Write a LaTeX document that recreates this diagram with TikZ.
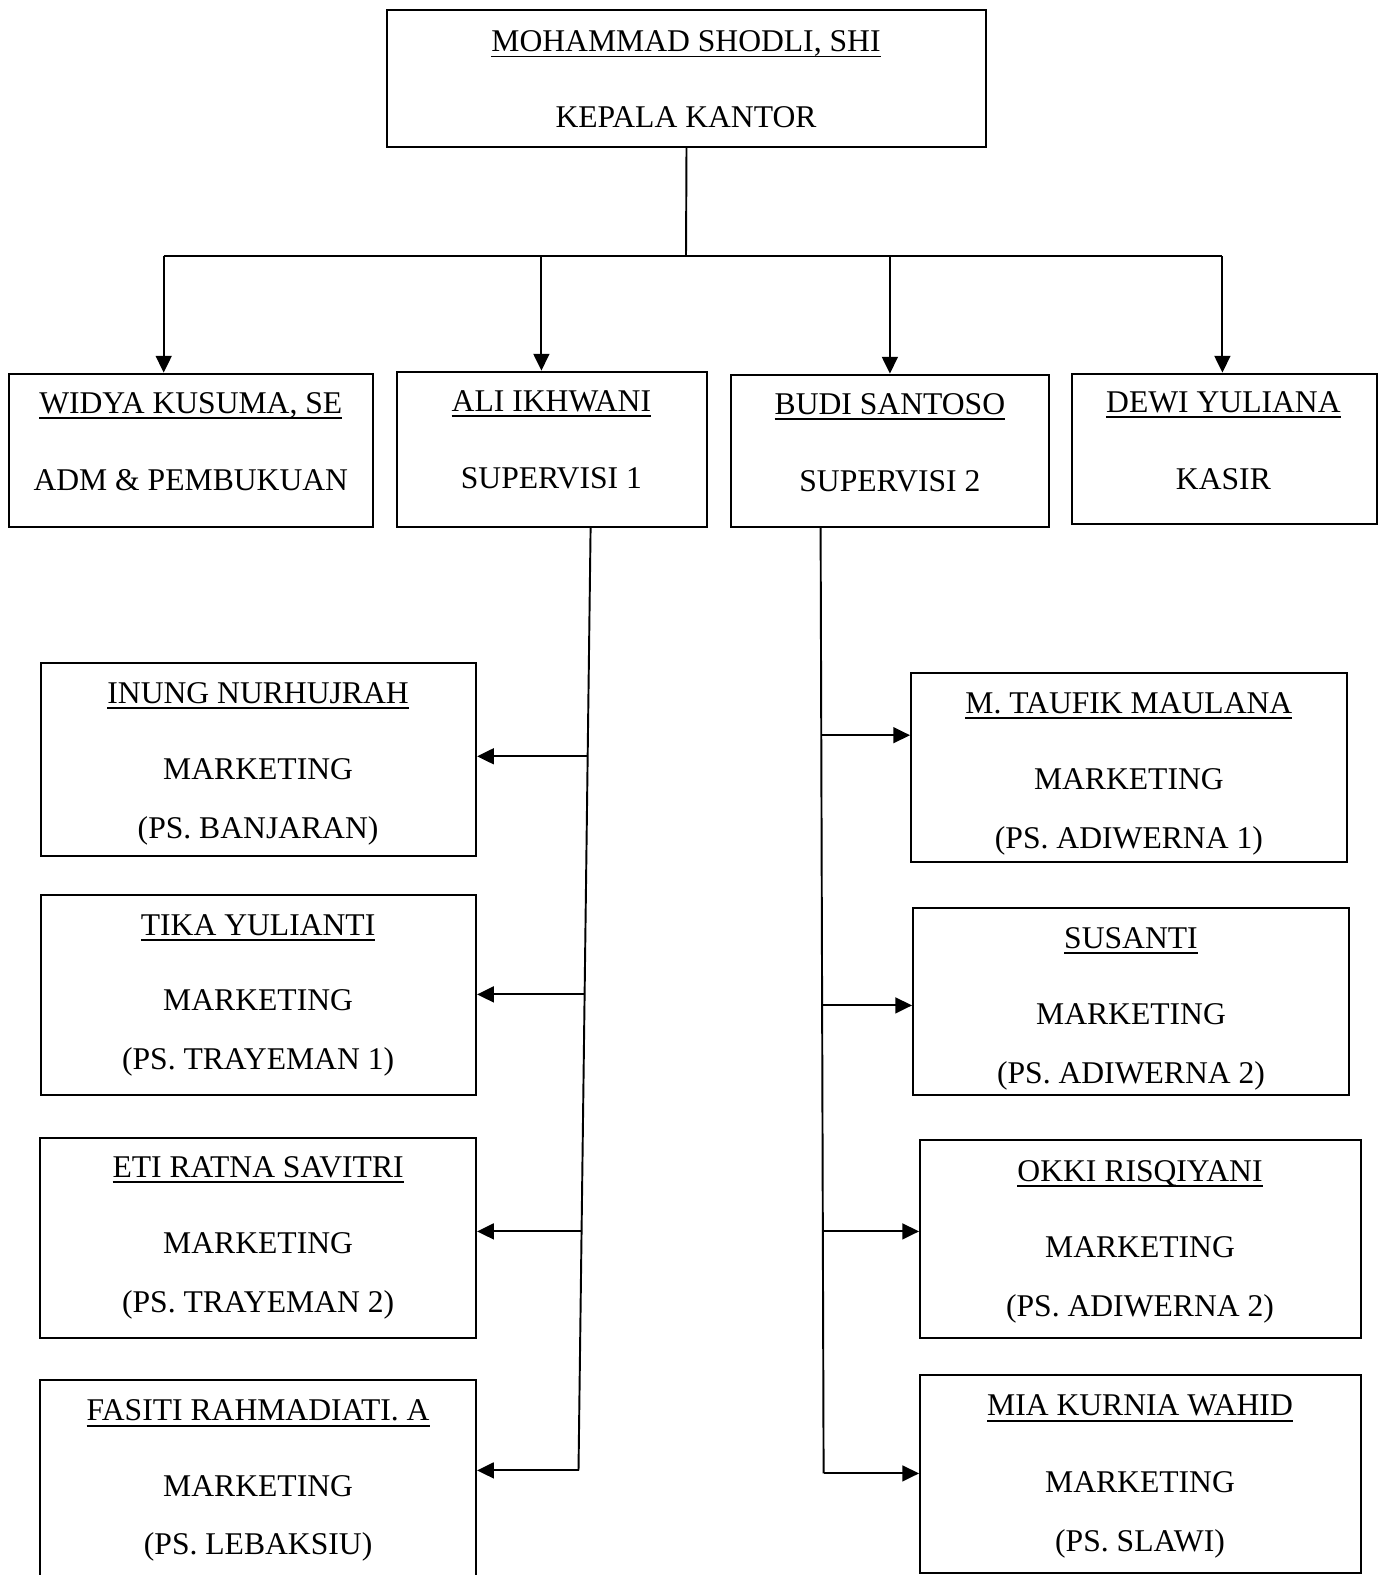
\documentclass[tikz,border=0pt]{standalone}
\usepackage{fontspec}
\setmainfont{Liberation Serif}
\usetikzlibrary{arrows.meta, fit}
\newcommand{\garisbawah}[1]{\setbox0\hbox{#1}\leavevmode\rlap{\rule[-3.3pt]{\wd0}{1.1pt}}\box0}
\tikzset{
	kotak/.style={draw, line width=1.1pt, inner sep=0pt},
	teks/.style={anchor=base, inner sep=0pt, font=\fontsize{18}{20}\selectfont},
	garis/.style={line width=1.1pt},
	panah/.style={line width=1.1pt, -{Triangle[length=9.5pt,width=9pt]}},
}
\begin{document}
\begin{tikzpicture}[x=0.02cm, y=-0.02cm]
			\clip (0,0) rectangle (1384,1575);
			% kepala kantor
			\node[kotak, fit={(386.7,10) (986.3,146.6)}] (kepala) {};
			\node[teks] (kepalaNama) at (686,51.7) {\garisbawah{MOHAMMAD SHODLI, SHI}};
			\node[teks] (kepalaJab) at (686,128) {KEPALA KANTOR};
			% baris kedua
			\node[kotak, fit={(9,373.6) (372.6,527.3)}] (widya) {};
			\node[teks] (widyaNama) at (190.8,413.3) {\garisbawah{WIDYA KUSUMA, SE}};
			\node[teks] (widyaJab) at (190.8,490.5) {ADM \& PEMBUKUAN};
			\node[kotak, fit={(396.7,371.6) (707.1,527.3)}] (ali) {};
			\node[teks] (aliNama) at (551.4,411.3) {\garisbawah{ALI IKHWANI}};
			\node[teks] (aliJab) at (551.4,488.5) {SUPERVISI 1};
			\node[kotak, fit={(731.2,374.6) (1048.6,527.3)}] (budi) {};
			\node[teks] (budiNama) at (889.9,414.3) {\garisbawah{BUDI SANTOSO}};
			\node[teks] (budiJab) at (889.9,491.6) {SUPERVISI 2};
			\node[kotak, fit={(1071.7,373.6) (1377,524.3)}] (dewi) {};
			\node[teks] (dewiNama) at (1223.4,412.3) {\garisbawah{DEWI YULIANA}};
			\node[teks] (dewiJab) at (1223.4,489.6) {KASIR};
			% marketing supervisi 1
			\node[kotak, fit={(41.2,662.9) (476.1,855.7)}] (inung) {};
			\node[teks] (inungNama) at (258.1,703.5) {\garisbawah{INUNG NURHUJRAH}};
			\node[teks] (inungJab) at (258.1,779.9) {MARKETING};
			\node[teks] (inungPs) at (258.1,838.1) {(PS. BANJARAN)};
			\node[kotak, fit={(41.2,894.9) (476.1,1094.8)}] (tika) {};
			\node[teks] (tikaNama) at (258.1,935.5) {\garisbawah{TIKA YULIANTI}};
			\node[teks] (tikaJab) at (258.1,1010.9) {MARKETING};
			\node[teks] (tikaPs) at (258.1,1069.1) {(PS. TRAYEMAN 1)};
			\node[kotak, fit={(40.2,1138) (476.1,1337.9)}] (eti) {};
			\node[teks] (etiNama) at (258.1,1177.6) {\garisbawah{ETI RATNA SAVITRI}};
			\node[teks] (etiJab) at (258.1,1253.9) {MARKETING};
			\node[teks] (etiPs) at (258.1,1312.2) {(PS. TRAYEMAN 2)};
			\node[kotak, fit={(40.2,1380) (476.1,1600)}] (fasiti) {};
			\node[teks] (fasitiNama) at (258.1,1420.7) {\garisbawah{FASITI RAHMADIATI. A}};
			\node[teks] (fasitiJab) at (258.1,1496) {MARKETING};
			\node[teks] (fasitiPs) at (258.1,1554.3) {(PS. LEBAKSIU)};
			% marketing supervisi 2
			\node[kotak, fit={(911,673) (1346.9,861.8)}] (taufik) {};
			\node[teks] (taufikNama) at (1128.9,713.6) {\garisbawah{M. TAUFIK MAULANA}};
			\node[teks] (taufikJab) at (1128.9,789.9) {MARKETING};
			\node[teks] (taufikPs) at (1128.9,848.2) {(PS. ADIWERNA 1)};
			\node[kotak, fit={(913,908) (1348.9,1094.8)}] (susanti) {};
			\node[teks] (susantiNama) at (1131,948.6) {\garisbawah{SUSANTI}};
			\node[teks] (susantiJab) at (1131,1024.9) {MARKETING};
			\node[teks] (susantiPs) at (1131,1083.2) {(PS. ADIWERNA 2)};
			\node[kotak, fit={(920,1140) (1361,1337.9)}] (okki) {};
			\node[teks] (okkiNama) at (1140,1181.6) {\garisbawah{OKKI RISQIYANI}};
			\node[teks] (okkiJab) at (1140,1257) {MARKETING};
			\node[teks] (okkiPs) at (1140,1316.2) {(PS. ADIWERNA 2)};
			\node[kotak, fit={(920,1375) (1361,1572.9)}] (mia) {};
			\node[teks] (miaNama) at (1140,1415.7) {\garisbawah{MIA KURNIA WAHID}};
			\node[teks] (miaJab) at (1140,1492) {MARKETING};
			\node[teks] (miaPs) at (1140,1551.3) {(PS. SLAWI)};
			% garis dari kepala kantor
			\coordinate (bus) at (686,256);
			\coordinate (b1) at (163.7,256);
			\coordinate (b2) at (541.4,256);
			\coordinate (b3) at (889.9,256);
			\coordinate (b4) at (1222.4,256);
			\draw[garis] (kepala.south) -- (bus);
			\draw[garis] (b1) -- (b4);
			\draw[panah] (b1) -- (b1 |- widya.north);
			\draw[panah] (b2) -- (b2 |- ali.north);
			\draw[panah] (b3) -- (b3 |- budi.north);
			\draw[panah] (b4) -- (b4 |- dewi.north);
			% supervisi 1
			\coordinate (s1) at (590.6,527.3);
			\coordinate (j1) at (587.7,756.3);
			\coordinate (j2) at (584.6,994.4);
			\coordinate (j3) at (581.2,1231.4);
			\coordinate (j4) at (578.5,1470.4);
			\draw[garis] (s1) -- (j4);
			\draw[panah] (j1) -- (j1 -| inung.east);
			\draw[panah] (j2) -- (j2 -| tika.east);
			\draw[panah] (j3) -- (j3 -| eti.east);
			\draw[panah] (j4) -- (j4 -| fasiti.east);
			% supervisi 2
			\coordinate (s2) at (820.6,527.3);
			\coordinate (k1) at (821.3,735.2);
			\coordinate (k2) at (822.1,1005.4);
			\coordinate (k3) at (822.9,1231.4);
			\coordinate (k4) at (823.6,1473.4);
			\draw[garis] (s2) -- (k4);
			\draw[panah] (k1) -- (k1 -| taufik.west);
			\draw[panah] (k2) -- (k2 -| susanti.west);
			\draw[panah] (k3) -- (k3 -| okki.west);
			\draw[panah] (k4) -- (k4 -| mia.west);
		\end{tikzpicture}
\end{document}
